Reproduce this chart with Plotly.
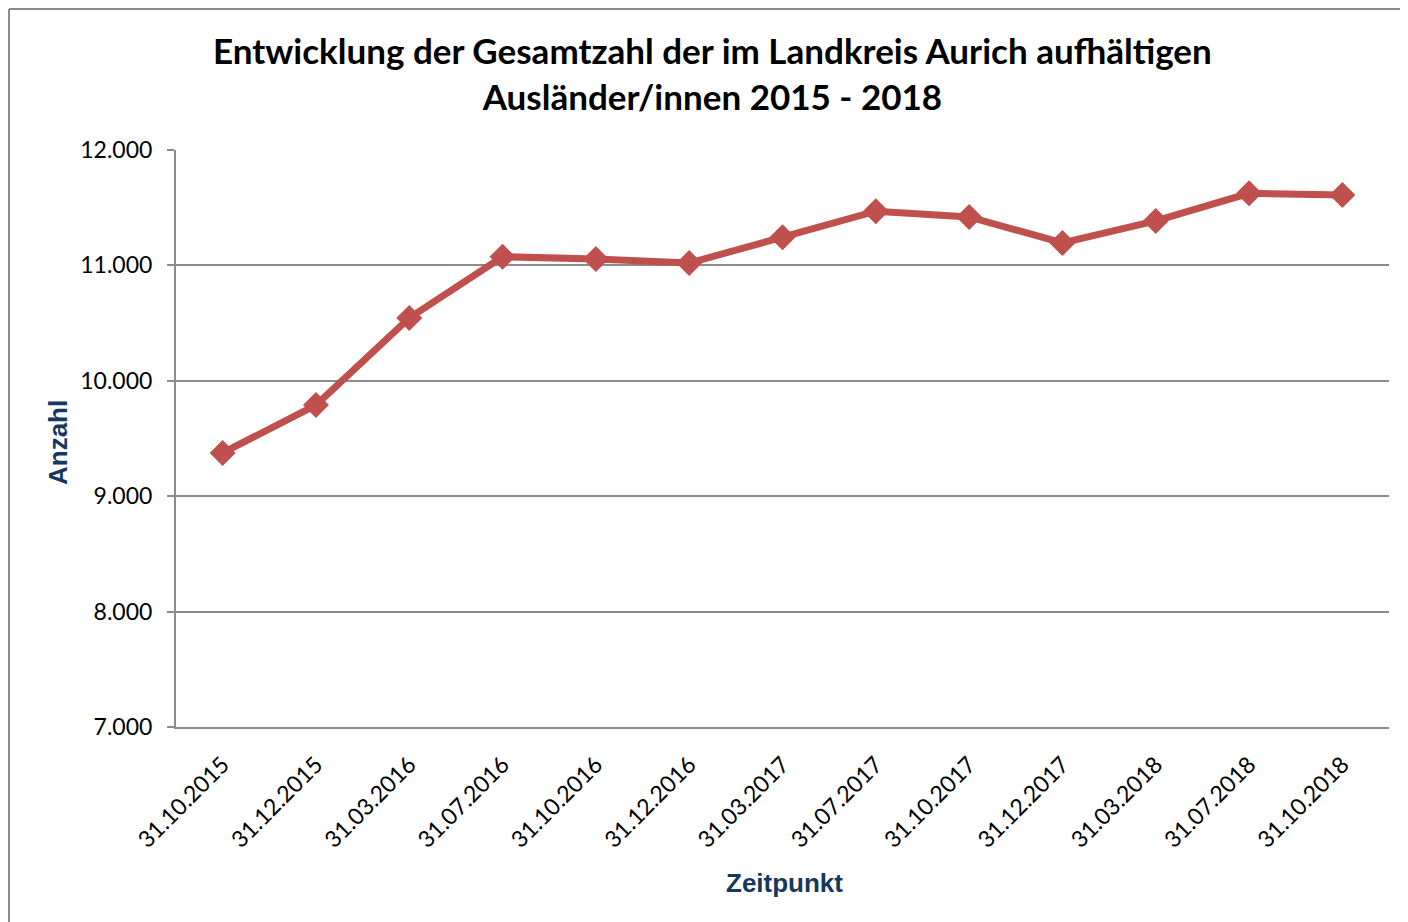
import plotly.graph_objects as go

dates = ["31.10.2015", "31.12.2015", "31.03.2016", "31.07.2016", "31.10.2016", "31.12.2016",
         "31.03.2017", "31.07.2017", "31.10.2017", "31.12.2017", "31.03.2018", "31.07.2018", "31.10.2018"]
anzahl = [9375, 9790, 10545, 11075, 11055, 11020, 11245, 11470, 11420, 11195, 11385, 11625, 11610]

title_lines = ["Entwicklung der Gesamtzahl der im Landkreis Aurich aufhältigen",
               "Ausländer/innen 2015 - 2018"]

# the page places the figure 8px from the top-left corner
OFF = 8
W, H = 1408 - OFF, 922 - OFF
L, R, T, B = 176 - OFF, 19, 150 - OFF, 195
pw, ph = W - L - R, H - T - B

def px(x):
    return (x - OFF - L) / pw

def py(y):
    return (H - B - (y - OFF)) / ph

fig = go.Figure()
fig.add_trace(go.Scatter(
    x=dates, y=anzahl, mode="lines+markers",
    line=dict(color="#C0504D", width=7),
    marker=dict(symbol="diamond", size=20, color="#C0504D"),
    showlegend=False,
))

fig.update_layout(
    width=W, height=H,
    margin=dict(l=L, r=R, t=T, b=B),
    paper_bgcolor="white", plot_bgcolor="white",
    separators=",.",
    font=dict(family="Lato, sans-serif", color="black"),
    xaxis=dict(
        type="category",
        tickangle=-45,
        tickfont=dict(size=23, family="Lato, sans-serif", color="black"),
        showgrid=False,
        showline=True, linecolor="#8C8C8C", linewidth=2,
        ticks="", ticklen=0,
        ticklabelstandoff=13,
        range=[-0.5, len(dates) - 0.5],
    ),
    yaxis=dict(
        range=[7000, 12000],
        dtick=1000,
        tickformat=",d",
        tickfont=dict(size=23, family="Lato, sans-serif", color="black"),
        showgrid=True, gridcolor="#8C8C8C", gridwidth=1.5,
        showline=True, linecolor="#8C8C8C", linewidth=2,
        ticks="outside", ticklen=7, tickcolor="#8C8C8C", tickwidth=1.5,
        ticklabelstandoff=10,
        zeroline=False,
    ),
    annotations=[
        dict(text="<br>".join("<b>" + t + "</b>" for t in title_lines),
             x=px(712), y=py(73), xref="paper", yref="paper",
             showarrow=False, xanchor="center", yanchor="middle",
             font=dict(size=35, family="Lato, sans-serif", color="black"),
             align="center"),
        dict(text="<b>Anzahl</b>", x=px(58), y=py(443), xref="paper", yref="paper",
             showarrow=False, textangle=-90, xanchor="center", yanchor="middle",
             font=dict(size=26, family="Liberation Sans, Arial, sans-serif", color="#17375E")),
        dict(text="<b>Zeitpunkt</b>", x=px(784), y=py(883), xref="paper", yref="paper",
             showarrow=False, xanchor="center", yanchor="middle",
             font=dict(size=26, family="Liberation Sans, Arial, sans-serif", color="#17375E")),
    ],
    shapes=[
        dict(type="line", xref="paper", yref="paper",
             x0=px(9), x1=px(1420), y0=py(9), y1=py(9),
             line=dict(color="#8C8C8C", width=2), layer="below"),
        dict(type="line", xref="paper", yref="paper",
             x0=px(9), x1=px(9), y0=py(9), y1=py(930),
             line=dict(color="#8C8C8C", width=2), layer="below"),
    ],
)

fig.write_html("out.html")
